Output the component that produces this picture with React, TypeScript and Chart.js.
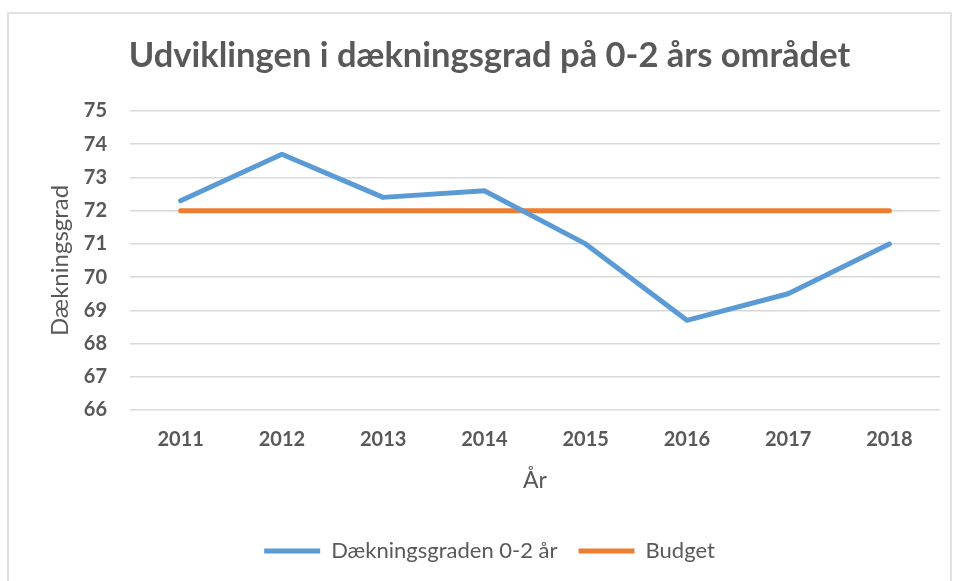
import React, { useEffect, useRef } from "react";
import { Chart, registerables } from "chart.js";

Chart.register(...registerables);

const years = ["2011", "2012", "2013", "2014", "2015", "2016", "2017", "2018"];
const coverage = [72.3, 73.7, 72.4, 72.6, 71.0, 68.7, 69.5, 71.0];
const budget = [72, 72, 72, 72, 72, 72, 72, 72];
const yTicks = [66, 67, 68, 69, 70, 71, 72, 73, 74, 75];

const FONT = "Lato, 'Open Sans', sans-serif";
const TEXT = "#595959";

export default function App() {
  const ref = useRef<HTMLCanvasElement | null>(null);
  useEffect(() => {
    if (!ref.current) return;
    const chart = new Chart(ref.current, {
      type: "line",
      data: {
        labels: years,
        datasets: [
          {
            label: "Dækningsgraden 0-2 år",
            data: coverage,
            borderColor: "#5B9BD5",
            backgroundColor: "#5B9BD5",
            borderWidth: 5,
            pointRadius: 0,
            pointHoverRadius: 0,
            borderCapStyle: "round",
            borderJoinStyle: "round",
            pointStyle: "line",
          },
          {
            label: "Budget",
            data: budget,
            borderColor: "#ED7D31",
            backgroundColor: "#ED7D31",
            borderWidth: 5,
            pointRadius: 0,
            pointHoverRadius: 0,
            borderCapStyle: "round",
            borderJoinStyle: "round",
            pointStyle: "line",
          },
        ],
      },
      options: {
        animation: false,
        responsive: false,
        maintainAspectRatio: false,
        layout: { padding: { top: 10, left: 30, right: 0, bottom: 20 } },
        plugins: {
          tooltip: { enabled: false },
          title: {
            display: true,
            text: "Udviklingen i dækningsgrad på 0-2 års området",
            color: TEXT,
            font: { family: FONT, size: 34.5, weight: "bold" },
            padding: { top: 11.3, bottom: 34.3 },
          },
          legend: {
            position: "bottom",
            labels: {
              color: TEXT,
              font: { family: FONT, size: 22 },
              usePointStyle: true,
              pointStyleWidth: 56,
              boxWidth: 56,
              boxHeight: 5,
              padding: 21,
            },
          },
        },
        scales: {
          x: {
            offset: true,
            grid: { display: false, drawTicks: false },
            border: { display: false },
            afterFit: (scale: any) => {
              scale.height = 109;
            },
            ticks: {
              color: TEXT,
              font: { family: FONT, size: 20, weight: "bold" },
              padding: 18,
            },
            title: {
              display: true,
              text: "År",
              color: TEXT,
              font: { family: FONT, size: 23 },
              padding: { top: 0, bottom: 24.2 },
            },
          },
          y: {
            min: 66,
            max: 75,
            afterBuildTicks: (axis: any) => {
              axis.ticks = yTicks.map((v) => ({ value: v }));
            },
            afterFit: (scale: any) => {
              scale.width = 91;
            },
            grid: { color: "#d9d9d9", lineWidth: 1.5, drawTicks: false },
            border: { display: false },
            ticks: {
              color: TEXT,
              font: { family: FONT, size: 20, weight: "bold" },
              padding: 23,
            },
            title: {
              display: true,
              text: "Dækningsgrad",
              color: TEXT,
              font: { family: FONT, size: 24 },
              padding: { top: 7, bottom: 0 },
            },
          },
        },
      },
    });
    return () => chart.destroy();
  }, []);
  return (
    <div
      style={{
        position: "absolute",
        left: 7,
        top: 12,
        width: 941,
        height: 600,
        border: "2px solid #e2e2e2",
        background: "#fff",
      }}
    >
      <canvas ref={ref} width={931} height={578} style={{ display: "block" }} />
    </div>
  );
}
